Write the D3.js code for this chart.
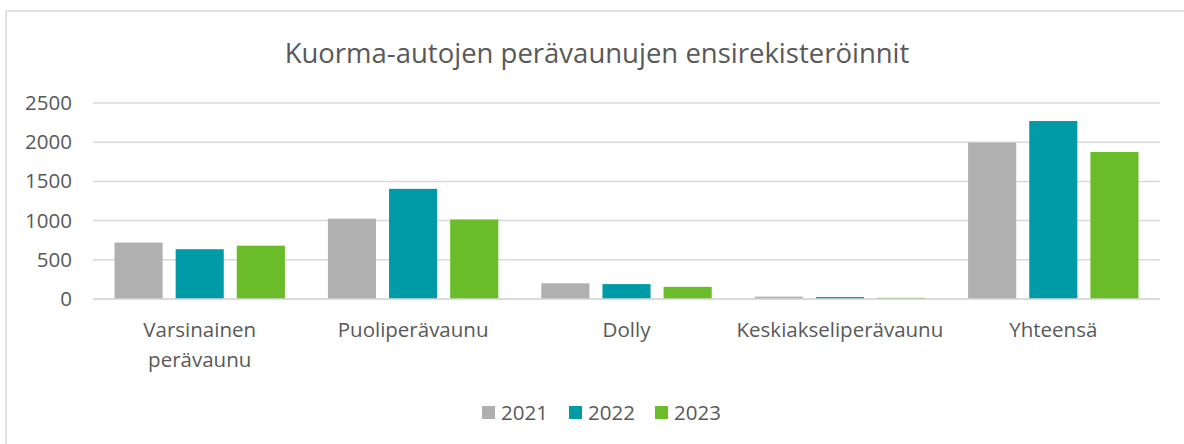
<!DOCTYPE html>
<html>
<head>
<meta charset="utf-8">
<script src="https://cdn.jsdelivr.net/npm/d3@7"></script>
<style>
  body { margin: 0; background: #fff; }
  text { font-family: "Open Sans", sans-serif; fill: #595959; }
</style>
</head>
<body>
<div id="chart"></div>
<script>
// Data
const categories = [['Varsinainen', 'perävaunu'], ['Puoliperävaunu'], ['Dolly'], ['Keskiakseliperävaunu'], ['Yhteensä']];
const years = ['2021', '2022', '2023'];
const values2021 = [720, 1025, 200, 30, 1995];
const values2022 = [635, 1405, 190, 25, 2270];
const values2023 = [680, 1015, 155, 15, 1875];
const yTicks = [0, 500, 1000, 1500, 2000, 2500];
const colors = ['#b0b0b0', '#009ba6', '#6abd28'];

const series = [values2021, values2022, values2023];

const W = 1184, H = 444;
let margin = {top: 103, right: 24, bottom: 145, left: 93},
    width = W - margin.left - margin.right,
    height = H - margin.top - margin.bottom;

const svg = d3.select('#chart').append('svg')
    .attr('width', W)
    .attr('height', H);

// chart border (runs off right/bottom)
svg.append('rect')
    .attr('x', 6).attr('y', 11)
    .attr('width', W + 20).attr('height', H + 20)
    .attr('fill', 'none')
    .attr('stroke', '#d9d9d9')
    .attr('stroke-width', 1.5);

svg.append('text')
    .attr('x', 597).attr('y', 63)
    .attr('text-anchor', 'middle')
    .style('font-size', '27.5px')
    .text('Kuorma-autojen perävaunujen ensirekisteröinnit');

const g = svg.append('g')
    .attr('transform', 'translate(' + margin.left + ',' + margin.top + ')');

let x0 = d3.scaleBand()
    .domain(d3.range(categories.length))
    .range([0, width]);

let x1 = d3.scaleBand()
    .domain(years)
    .range([21.5, x0.bandwidth() - 21.5])
    .paddingInner(0.213);

let y = d3.scaleLinear()
    .domain([0, 2500])
    .range([height, 0]);

// gridlines
g.selectAll('.grid')
    .data(yTicks).enter()
    .append('line')
    .attr('x1', 0).attr('x2', width)
    .attr('y1', d => y(d)).attr('y2', d => y(d))
    .attr('stroke', '#d9d9d9')
    .attr('stroke-width', 1.5);

// y axis labels
let yAxis = d3.axisLeft(y).tickValues(yTicks).tickFormat(d3.format('d')).tickSize(0).tickPadding(21);
g.append('g')
    .call(yAxis)
    .call(a => a.select('.domain').remove())
    .selectAll('text')
    .style('font-size', '20.5px')
    .style('fill', '#595959')
    .style('font-family', '"Open Sans", sans-serif');

// bars
const groups = g.selectAll('.cat')
    .data(categories.map((c, i) => i)).enter()
    .append('g')
    .attr('transform', i => 'translate(' + x0(i) + ',0)');

groups.selectAll('rect')
    .data(i => years.map((yr, j) => ({year: yr, value: series[j][i], color: colors[j]})))
    .enter()
    .append('rect')
    .attr('x', d => x1(d.year))
    .attr('width', x1.bandwidth())
    .attr('y', d => y(d.value))
    .attr('height', d => height - y(d.value))
    .attr('fill', d => d.color);

// x axis line redrawn on top
g.append('line')
    .attr('x1', 0).attr('x2', width)
    .attr('y1', y(0)).attr('y2', y(0))
    .attr('stroke', '#d9d9d9')
    .attr('stroke-width', 1.5);

// category labels
const labels = g.selectAll('.catlabel')
    .data(categories).enter()
    .append('text')
    .attr('text-anchor', 'middle')
    .attr('transform', (d, i) => 'translate(' + (x0(i) + x0.bandwidth() / 2) + ',' + (height + 38) + ')')
    .style('font-size', '20.5px');

labels.selectAll('tspan')
    .data(d => d).enter()
    .append('tspan')
    .attr('x', 0)
    .attr('dy', (d, i) => i === 0 ? 0 : 30)
    .text(d => d);

// legend
const legendX = [482, 569, 655];
const legend = svg.selectAll('.legend')
    .data(years).enter()
    .append('g')
    .attr('transform', (d, i) => 'translate(' + legendX[i] + ',406)');

legend.append('rect')
    .attr('width', 13).attr('height', 13)
    .attr('fill', (d, i) => colors[i]);

legend.append('text')
    .attr('x', 19).attr('y', 14)
    .style('font-size', '20.5px')
    .text(d => d);
</script>
</body>
</html>
